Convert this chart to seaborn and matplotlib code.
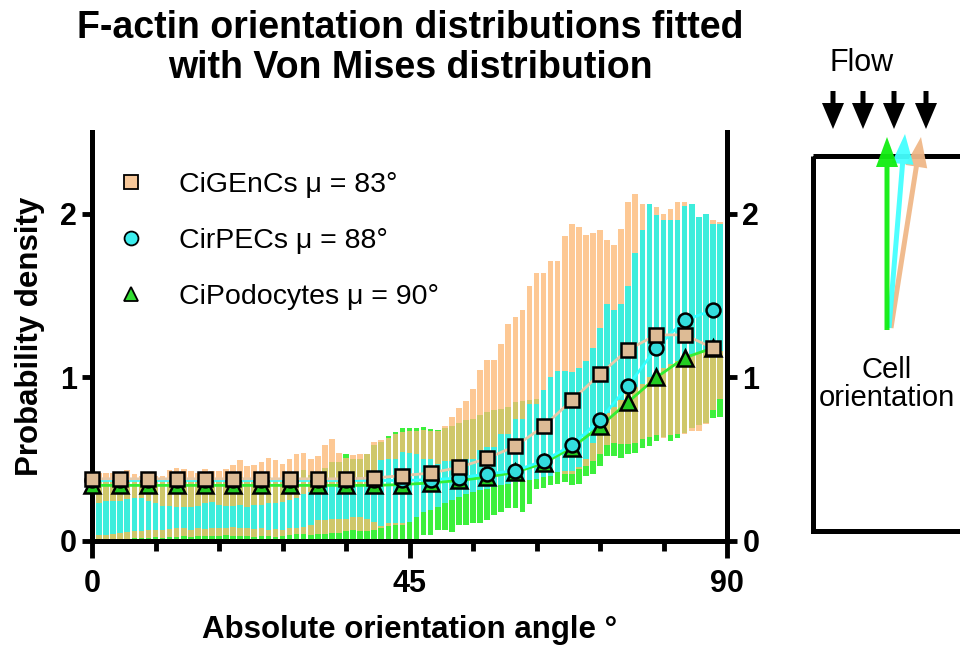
import numpy as np
import matplotlib
matplotlib.use("Agg")
import matplotlib.pyplot as plt
from matplotlib.lines import Line2D
from matplotlib.patches import Rectangle, FancyArrow
from matplotlib.ticker import FixedLocator
import seaborn as sns

# === DATA ===
# one bar per degree (1..89), floating bars = low / high of each distribution
angles = np.arange(1, 90)

genc_lo = [0.01, 0.01, 0.012, 0.015, 0.015, 0.02, 0.02, 0.02, 0.025, 0.02,
           0.025, 0.025, 0.03, 0.025, 0.03, 0.03, 0.03, 0.03, 0.035, 0.03,
           0.03, 0.03, 0.025, 0.03, 0.03, 0.025, 0.03, 0.035, 0.04, 0.04,
           0.035, 0.04, 0.045, 0.05, 0.05, 0.06, 0.065, 0.06, 0.06, 0.07,
           0.08, 0.09, 0.1, 0.1, 0.15, 0.18, 0.21, 0.22, 0.24, 0.26,
           0.28, 0.30, 0.32, 0.33, 0.34, 0.35, 0.36, 0.37, 0.38, 0.39,
           0.40, 0.40, 0.41, 0.42, 0.43, 0.44, 0.41, 0.41, 0.44, 0.46,
           0.49, 0.53, 0.585, 0.60, 0.595, 0.595, 0.60, 0.625, 0.636, 0.646,
           0.63, 0.646, 0.656, 0.656, 0.67, 0.673, 0.713, 0.80, 0.87]
genc_hi = [0.417, 0.417, 0.417, 0.41, 0.433, 0.41, 0.40, 0.40, 0.40, 0.40,
           0.433, 0.445, 0.439, 0.427, 0.417, 0.439, 0.427, 0.427, 0.439, 0.463,
           0.494, 0.457, 0.463, 0.484, 0.51, 0.498, 0.473, 0.504, 0.53, 0.539,
           0.504, 0.518, 0.585, 0.626, 0.539, 0.51, 0.524, 0.53, 0.53, 0.606,
           0.62, 0.63, 0.655, 0.667, 0.675, 0.67, 0.68, 0.675, 0.67, 0.705,
           0.758, 0.815, 0.854, 0.931, 1.043, 1.108, 1.108, 1.206, 1.327, 1.368,
           1.413, 1.561, 1.636, 1.636, 1.713, 1.713, 1.866, 1.94, 1.92, 1.87,
           1.88, 1.90, 1.84, 1.81, 1.91, 2.07, 2.12, 2.06, 2.0, 2.04,
           2.0, 2.03, 2.07, 2.07, 2.0, 1.95, 1.96, 1.96, 1.95]

pec_lo = [0.037, 0.037, 0.045, 0.05, 0.057, 0.06, 0.06, 0.065, 0.065, 0.07,
          0.072, 0.077, 0.077, 0.067, 0.077, 0.072, 0.077, 0.08, 0.082, 0.087,
          0.08, 0.077, 0.071, 0.077, 0.067, 0.071, 0.067, 0.077, 0.081, 0.083,
          0.098, 0.128, 0.128, 0.132, 0.132, 0.132, 0.148, 0.148, 0.132, 0.118,
          0.091, 0.108, 0.108, 0.112, 0.118, 0.148, 0.18, 0.19, 0.21, 0.23,
          0.25, 0.27, 0.29, 0.30, 0.31, 0.32, 0.33, 0.34, 0.35, 0.36,
          0.37, 0.37, 0.38, 0.39, 0.40, 0.42, 0.43, 0.43, 0.45, 0.50,
          0.60, 0.70, 0.78, 0.82, 0.86, 0.90, 0.94, 0.96, 1.0, 1.03,
          1.06, 1.08, 1.10, 1.12, 1.14, 1.15, 1.16, 1.16, 1.16]
pec_hi = [0.23, 0.244, 0.244, 0.244, 0.254, 0.264, 0.264, 0.244, 0.23, 0.213,
          0.213, 0.205, 0.205, 0.205, 0.213, 0.23, 0.24, 0.22, 0.213, 0.213,
          0.22, 0.205, 0.22, 0.22, 0.23, 0.23, 0.24, 0.25, 0.26, 0.29,
          0.30, 0.32, 0.34, 0.35, 0.33, 0.33, 0.35, 0.34, 0.34, 0.35,
          0.494, 0.50, 0.50, 0.544, 0.54, 0.53, 0.5, 0.5, 0.47, 0.49,
          0.49, 0.49, 0.5, 0.5, 0.555, 0.575, 0.575, 0.655, 0.655, 0.745,
          0.745, 0.84, 0.84, 0.92, 1.0, 1.04, 1.04, 1.03, 1.06, 1.10,
          1.18, 1.30, 1.45, 1.41, 1.45, 1.56, 1.76, 1.90, 2.06, 1.99,
          1.96, 1.96, 1.96, 2.05, 2.06, 1.98, 2.0, 1.94, 1.94]

podo_lo = [0, 0, 0, 0, 0, 0, 0, 0, 0, 0,
           0, 0, 0, 0, 0, 0, 0, 0, 0, 0,
           0, 0, 0, 0, 0, 0, 0, 0, 0, 0,
           0, 0, 0, 0, 0, 0, 0, 0, 0, 0,
           0, 0, 0, 0, 0, 0, 0.037, 0.037, 0.067, 0.067,
           0.057, 0.098, 0.098, 0.108, 0.108, 0.128, 0.159, 0.179, 0.2, 0.2,
           0.179, 0.226, 0.315, 0.327, 0.341, 0.351, 0.362, 0.34, 0.35, 0.40,
           0.41, 0.46, 0.52, 0.52, 0.51, 0.53, 0.54, 0.567, 0.58, 0.612,
           0.635, 0.612, 0.628, 0.66, 0.69, 0.71, 0.72, 0.754, 0.758]
podo_hi = [0.37, 0.37, 0.375, 0.37, 0.365, 0.37, 0.37, 0.375, 0.37, 0.37,
           0.38, 0.375, 0.37, 0.375, 0.38, 0.38, 0.385, 0.38, 0.385, 0.39,
           0.39, 0.372, 0.372, 0.393, 0.393, 0.372, 0.372, 0.372, 0.423, 0.433,
           0.402, 0.417, 0.449, 0.484, 0.484, 0.53, 0.504, 0.50, 0.53, 0.585,
           0.606, 0.64, 0.667, 0.693, 0.691, 0.691, 0.697, 0.683, 0.681, 0.69,
           0.70, 0.72, 0.738, 0.748, 0.768, 0.789, 0.803, 0.809, 0.819, 0.85,
           0.854, 0.86, 0.87, 0.88, 0.88, 0.9, 0.92, 0.93, 0.95, 0.98,
           1.0, 1.02, 1.05, 1.08, 1.1, 1.12, 1.15, 1.2, 1.25, 1.3,
           1.3, 1.35, 1.35, 1.4, 1.4, 1.45, 1.45, 1.5, 1.5]

# Von Mises fits, every 4 degrees
fit_angles = np.arange(0, 89, 4)
genc_fit = [0.38, 0.38, 0.38, 0.38, 0.38, 0.38, 0.38, 0.38, 0.38, 0.38,
            0.385, 0.40, 0.415, 0.45, 0.505, 0.58, 0.70, 0.86, 1.02, 1.17,
            1.26, 1.26, 1.18]
pec_fit = [0.37, 0.37, 0.37, 0.37, 0.37, 0.37, 0.37, 0.37, 0.37, 0.37,
           0.37, 0.37, 0.375, 0.385, 0.41, 0.43, 0.49, 0.585, 0.74, 0.95,
           1.18, 1.35, 1.41]
podo_fit = [0.34, 0.34, 0.34, 0.34, 0.34, 0.34, 0.34, 0.34, 0.34, 0.34,
            0.34, 0.345, 0.355, 0.37, 0.39, 0.42, 0.475, 0.57, 0.70, 0.85,
            1.00, 1.12, 1.18]

labels = ["CiGEnCs", "CirPECs", "CiPodocytes"]
mu = [83, 88, 90]

# === STYLE ===
sns.set_style("ticks")
plt.rcParams['font.family'] = ['Liberation Sans', 'DejaVu Sans']
plt.rcParams['font.weight'] = 'bold'
for k in ['text.color', 'axes.labelcolor', 'xtick.color', 'ytick.color', 'axes.edgecolor']:
    plt.rcParams[k] = 'black'

PEACH = '#FDC894'
OLIVE = '#CFC76A'
GREEN = '#3CF03C'
CYAN = '#3DEDDC'

fig = plt.figure(figsize=(9.6, 6.48), dpi=100)
ax = fig.add_axes([92 / 960, 107 / 648, 635 / 960, 409 / 648])


def draw_bars(lo, hi, color, z):
    lo = np.asarray(lo, dtype=float)
    hi = np.asarray(hi, dtype=float)
    ax.bar(angles, hi - lo, bottom=lo, width=0.8, color=color,
           linewidth=0, zorder=z)


draw_bars(podo_lo, podo_hi, GREEN, 1)
draw_bars(genc_lo, genc_hi, PEACH, 2)
# where the GEnC and podocyte bars overlap the colours mix to olive
ov_lo = np.maximum(genc_lo, podo_lo)
ov_hi = np.maximum(np.minimum(genc_hi, podo_hi), ov_lo)
draw_bars(ov_lo, ov_hi, OLIVE, 3)
draw_bars(pec_lo, pec_hi, CYAN, 4)

# fitted curves with markers
sns.lineplot(x=fit_angles, y=podo_fit, ax=ax, color='#33EE33', linewidth=2,
             marker='^', markersize=11, markerfacecolor='#22CC22',
             markeredgecolor='k', markeredgewidth=1.8, zorder=6, clip_on=False)
sns.lineplot(x=fit_angles, y=pec_fit, ax=ax, color='#33FFFF', linewidth=2,
             marker='o', markersize=10, markerfacecolor='#33DDDD',
             markeredgecolor='k', markeredgewidth=1.8, zorder=7, clip_on=False)
sns.lineplot(x=fit_angles, y=genc_fit, ax=ax, color='#E6C9A8', linewidth=2,
             marker='s', markersize=10, markerfacecolor='#DDBB95',
             markeredgecolor='k', markeredgewidth=1.8, zorder=8, clip_on=False)

handles = [
    Line2D([0], [0], ls='none', marker='s', markersize=10, markerfacecolor='#F7C89A',
           markeredgecolor='k', markeredgewidth=1.3),
    Line2D([0], [0], ls='none', marker='o', markersize=10, markerfacecolor='#3DEEEE',
           markeredgecolor='k', markeredgewidth=1.3),
    Line2D([0], [0], ls='none', marker='^', markersize=10, markerfacecolor='#33DD33',
           markeredgecolor='k', markeredgewidth=1.3),
]
leg_labels = [f"{n} μ = {m}°" for n, m in zip(labels, mu)]
ax.legend(handles, leg_labels, loc='upper left', bbox_to_anchor=(0.021, 0.93),
          frameon=False, prop={'size': 20.5, 'weight': 'normal'},
          handlelength=1.0, handletextpad=1.2, labelspacing=1.05,
          borderaxespad=0, borderpad=0.4)

# === AXES ===
ax.set_xlim(0, 90)
ax.set_ylim(0, 2.5)
ax.xaxis.set_major_locator(FixedLocator([0, 45, 90]))
ax.xaxis.set_minor_locator(FixedLocator([9, 18, 27, 36, 54, 63, 72, 81]))
ax.set_yticks([0, 1, 2])
ax.tick_params(axis='x', which='major', length=12, width=3.5, labelsize=22, pad=8)
ax.tick_params(axis='x', which='minor', length=7, width=3.5)
ax.tick_params(axis='y', which='major', length=7, width=3.5, labelsize=22,
               right=True, labelright=True, pad=4)
ax.spines['top'].set_visible(False)
for s in ['left', 'bottom', 'right']:
    ax.spines[s].set_linewidth(3.6)
    ax.spines[s].set_capstyle('projecting')
    ax.spines[s].set_zorder(5)

fig.text(410 / 960, 1 - 48 / 648,
         "F-actin orientation distributions fitted\nwith Von Mises distribution",
         ha='center', va='center', fontsize=27, fontweight='bold', linespacing=1.12)
fig.text(410 / 960, 1 - 630 / 648, "Absolute orientation angle °",
         ha='center', va='center', fontsize=22.5, fontweight='bold')
fig.text(30 / 960, 1 - 336 / 648, "Probability density", rotation=90,
         ha='center', va='center', fontsize=22.5, fontweight='bold')

# === FLOW SKETCH (pixel coordinates) ===
ov = fig.add_axes([0, 0, 1, 1])
ov.set_xlim(0, 960)
ov.set_ylim(648, 0)
ov.axis('off')
ov.patch.set_alpha(0)

ov.add_patch(Rectangle((812.5, 155.5), 170, 375, fill=False, lw=3.6, ec='k'))
for x in [833, 863, 894, 926]:
    ov.add_patch(FancyArrow(x, 91, 0, 38, width=5, head_width=22, head_length=26,
                            length_includes_head=True, color='k', lw=0))
# cell orientation arrows (GEnC, PEC, podocyte)
for (x0, y0, x1, y1), c in zip([(891, 328, 921, 137), (889, 328, 905, 134),
                                (887, 330, 887, 137)],
                               ['#F0B888', '#44FFFF', '#11EE11']):
    ov.add_patch(FancyArrow(x0, y0, x1 - x0, y1 - y0, width=5, head_width=22,
                            head_length=30, length_includes_head=True, color=c,
                            lw=0, alpha=0.95))
ov.text(862, 63, "Flow", ha='center', va='center', fontsize=22, fontweight='normal')
ov.text(887, 384, "Cell\norientation", ha='center', va='center', fontsize=21,
        fontweight='normal', linespacing=1.0)

fig.savefig("out.png", dpi=100)
